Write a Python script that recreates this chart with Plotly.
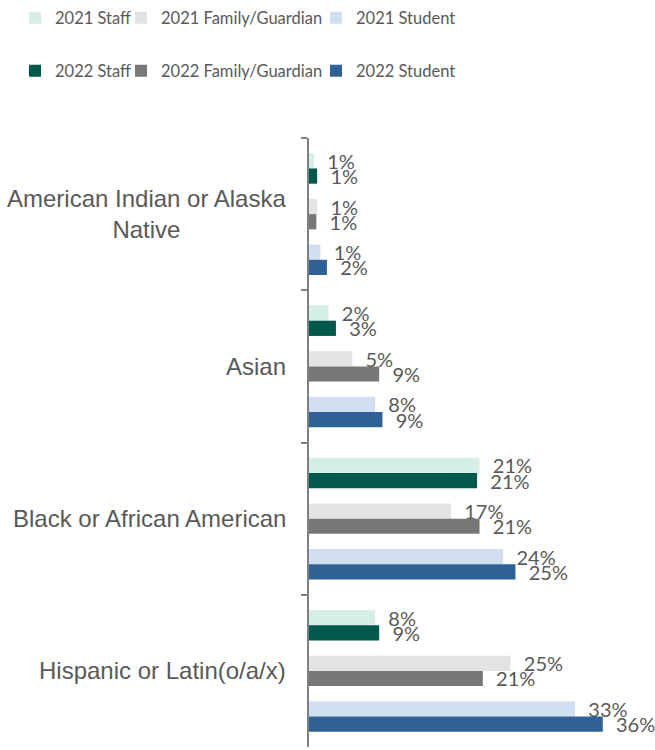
import plotly.graph_objects as go

categories = [
    "American Indian or Alaska Native",
    "Asian",
    "Black or African American",
    "Hispanic or Latin(o/a/x)",
]
category_labels = [
    "American Indian or Alaska<br>Native",
    "Asian",
    "Black or African American",
    "Hispanic or Latin(o/a/x)",
]

staff_2021 = [0.6, 2.4, 20.9, 8.1]
staff_2022 = [1.0, 3.3, 20.6, 8.6]
family_2021 = [1.0, 5.3, 17.4, 24.7]
family_2022 = [0.9, 8.6, 20.9, 21.3]
student_2021 = [1.4, 8.1, 23.8, 32.6]
student_2022 = [2.2, 9.0, 25.3, 36.0]

# name, values, colour, bar offset, legend id, legend text x (px), legend row y (px)
series = [
    ("2021 Staff", staff_2021, "#d5efe5", -0.4, "legend", 55, 18),
    ("2022 Staff", staff_2022, "#00594c", -0.3, "legend4", 55, 71),
    ("2021 Family/Guardian", family_2021, "#e3e3e3", -0.1, "legend2", 161, 18),
    ("2022 Family/Guardian", family_2022, "#777777", 0.0, "legend5", 161, 71),
    ("2021 Student", student_2021, "#d0dff0", 0.2, "legend3", 356, 18),
    ("2022 Student", student_2022, "#2f6096", 0.3, "legend6", 356, 71),
]

label_color = "#595959"

W, H = 655, 750
L, T, B = 309, 138, 3
pw, ph = W - L, H - T - B


def px_x(x):
    return (x - L) / pw


def px_y(y):
    return (H - B - y) / ph


fig = go.Figure()
legends = {}
for name, vals, color, off, leg, lx, ly in series:
    fig.add_trace(go.Bar(
        name=name, y=categories, x=vals, orientation="h",
        marker=dict(color=color, line=dict(width=0)),
        offset=off, width=0.1,
        texttemplate="\u00a0\u00a0%{x:.0f}%", textposition="outside",
        textfont=dict(family="Lato", size=20, color=label_color),
        constraintext="none", cliponaxis=False,
        legend=leg, hoverinfo="skip",
    ))
    legends[leg] = dict(
        orientation="h", xref="paper", yref="paper",
        xanchor="left", yanchor="middle",
        x=px_x(lx - 40), y=px_y(ly),
        font=dict(family="Lato", size=16.5, color=label_color),
        bgcolor="rgba(0,0,0,0)",
    )

for cat, lab in zip(categories, category_labels):
    fig.add_annotation(
        x=0, xref="paper", y=cat, yref="y", text=lab, showarrow=False,
        xanchor="right", xshift=-21, align="center",
        font=dict(family="Liberation Sans, Arial", size=24, color=label_color),
    )

fig.update_layout(
    width=W, height=H,
    margin=dict(l=L, r=0, t=T, b=B, autoexpand=False),
    paper_bgcolor="white", plot_bgcolor="white",
    barmode="overlay",
    showlegend=True,
    xaxis=dict(range=[0, 42.4], visible=False, showgrid=False, zeroline=False),
    yaxis=dict(
        type="category", categoryorder="array", categoryarray=categories,
        autorange="reversed", showticklabels=False, showgrid=False,
        zeroline=False, showline=True, linecolor="#7f7f7f", linewidth=2,
        ticks="outside", tickson="boundaries", ticklen=6, tickcolor="#7f7f7f",
        tickwidth=2,
    ),
    **legends,
)

fig.write_html(
    "out.html",
    config={"displayModeBar": False},
    post_script="document.body.style.margin='0';document.body.style.overflow='hidden';",
)
